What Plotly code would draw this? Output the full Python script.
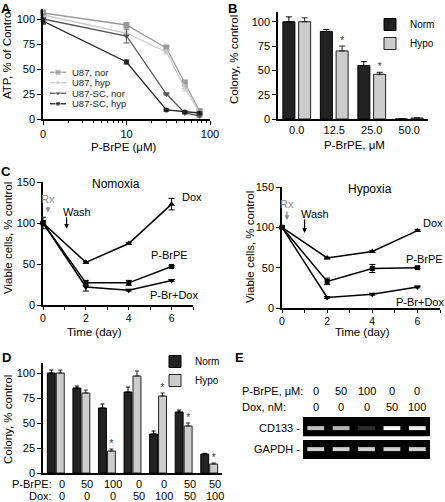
import plotly.graph_objects as go

W, H = 445, 502
FONT = "Arial, 'Liberation Sans', sans-serif"

# ---------------- Panel A: ATP vs P-BrPE ----------------
atp_dose = [0, 10, 30, 50, 75]
atp_labels = ["U87, nor", "U87, hyp", "U87-SC, nor", "U87-SC, hyp"]
atp_u87_nor = [106, 94, 71, 36, 8]
atp_u87_nor_err = [3, 1, 3, 3, 2]
atp_u87_hyp = [104, 86, 67, 31, 6]
atp_u87_hyp_err = [2, 2, 2, 3, 2]
atp_sc_nor = [100, 83, 25, 6, 3]
atp_sc_nor_err = [5, 7, 1, 1, 1]
atp_sc_hyp = [98, 57, 9, 7, 6]
atp_sc_hyp_err = [3, 2, 1, 1, 1]

# ---------------- Panel B: colony vs P-BrPE ----------------
colony_dose_labels = ["0.0", "12.5", "25.0", "50.0"]
colony_norm = [100, 90, 55, 0]
colony_norm_err = [5, 2, 4, 0]
colony_hypo = [100, 70, 46, 1]
colony_hypo_err = [4, 5, 2, 0.5]
colony_sig = [False, True, True, False]

# ---------------- Panel C: viable cells over time ----------------
days = [0, 2, 4, 6]
c_labels = ["Dox", "P-BrPE", "P-Br+Dox"]
nor_dox = [100, 52, 75, 123]
nor_dox_err = [7, 1, 1, 7]
nor_pbrpe = [100, 27, 27, 47]
nor_pbrpe_err = [3, 3, 3, 1]
nor_combo = [100, 22, 18, 30]
nor_combo_err = [3, 5, 1, 1]
hyp_dox = [100, 62, 70, 96]
hyp_dox_err = [1, 1, 1, 1]
hyp_pbrpe = [100, 33, 49, 50]
hyp_pbrpe_err = [2, 4, 5, 1]
hyp_combo = [100, 13, 17, 26]
hyp_combo_err = [1, 1, 1, 1]

# ---------------- Panel D: colony with combinations ----------------
d_pbrpe = ["0", "50", "100", "0", "0", "50", "50"]
d_dox = ["0", "0", "0", "50", "100", "50", "100"]
d_norm = [100, 85, 65, 81, 39, 61, 19]
d_norm_err = [3, 2, 4, 5, 3, 2, 0.7]
d_hypo = [100, 80, 22, 97, 77, 47, 9]
d_hypo_err = [3, 3, 2, 5, 3, 3, 1]
d_sig = [False, False, True, False, True, True, True]

# ---------------- Panel E: gel ----------------
e_pbrpe = ["0", "50", "100", "0", "0"]
e_dox = ["0", "0", "0", "50", "100"]
e_genes = ["GAPDH", "CD133"]
cd133_band = [0.75, 0.7, 0.18, 0.97, 0.92]
gapdh_band = [0.82, 0.82, 0.82, 0.82, 0.82]


def fx(p):
    return p / W


def fy(p):
    return 1 - p / H


def xdom(a, b):
    return [fx(a), fx(b)]


def ydom(top, bottom):
    return [fy(bottom), fy(top)]


def note(**kw):
    d = dict(showarrow=False, xanchor="center", yanchor="middle")
    d.update(kw)
    return d


AX = dict(showline=True, linecolor="black", linewidth=1.5, ticks="outside",
          ticklen=4, tickwidth=1.2, tickcolor="black", showgrid=False,
          zeroline=False, tickfont=dict(size=11, color="black", family=FONT))

fig = go.Figure()
ann = []
shapes = []

# ---- A
A_colors = ["#9a9a9a", "#c9c9c9", "#555555", "#222222"]
A_symbols = ["square", "triangle-up", "triangle-down", "circle"]
A_sizes = [6, 6, 6, 5]
atp_x = [d if d > 0 else 1 for d in atp_dose]  # 0 dose sits at axis origin (labelled "0")
A_vals = [atp_u87_nor, atp_u87_hyp, atp_sc_nor, atp_sc_hyp]
A_errs = [atp_u87_nor_err, atp_u87_hyp_err, atp_sc_nor_err, atp_sc_hyp_err]
for i, (name, v, e, c, s, sz) in enumerate(zip(atp_labels, A_vals, A_errs, A_colors, A_symbols, A_sizes)):
    fig.add_trace(go.Scatter(
        x=atp_x, y=v, name=name, mode="lines+markers",
        line=dict(color=c, width=1.3), marker=dict(symbol=s, size=sz, color=c),
        error_y=dict(type="data", array=e, color=c, thickness=1, width=3),
        xaxis="x", yaxis="y", showlegend=False, cliponaxis=False))
    # legend sample
    fig.add_trace(go.Scatter(
        x=[0, 1, 2], y=[i, i, i], mode="lines+markers",
        line=dict(color=c, width=1.3), marker=dict(symbol=s, size=[0, sz, 0], color=c),
        xaxis="x7", yaxis="y7", showlegend=False, hoverinfo="skip"))
    ann.append(note(xref="x7", yref="y7", x=2, y=i, text=name, xanchor="left",
                    xshift=4, font=dict(size=9.5, color="#222")))

# ---- B
BW_B, OFF_N_B, OFF_H_B = 0.32, -0.37, 0.05
bx = list(range(len(colony_dose_labels)))
fig.add_trace(go.Bar(
    x=bx, y=colony_norm, width=BW_B, offset=OFF_N_B, name="Norm",
    marker=dict(color="#222222", line=dict(color="black", width=1)),
    error_y=dict(type="data", array=colony_norm_err, arrayminus=[0] * len(bx),
                 symmetric=False, color="black", thickness=1, width=3),
    xaxis="x2", yaxis="y2", legend="legend2"))
fig.add_trace(go.Bar(
    x=bx, y=colony_hypo, width=BW_B, offset=OFF_H_B, name="Hypo",
    marker=dict(color="#cccccc", line=dict(color="#222222", width=1)),
    error_y=dict(type="data", array=colony_hypo_err, arrayminus=[0] * len(bx),
                 symmetric=False, color="#222222", thickness=1, width=3),
    xaxis="x2", yaxis="y2", legend="legend2"))
fig.add_trace(go.Scatter(
    x=[i + OFF_H_B + BW_B / 2 for i, s in zip(bx, colony_sig) if s],
    y=[v + e for v, e, s in zip(colony_hypo, colony_hypo_err, colony_sig) if s],
    mode="text", text=["*"] * sum(colony_sig), textposition="top center",
    textfont=dict(size=10, color="#333"), xaxis="x2", yaxis="y2", showlegend=False))

# ---- C
C_symbols = ["triangle-up", "square", "triangle-down"]
C_sizes = [6, 5, 6]
for (vals, errs, xa, ya) in [
    ([nor_dox, nor_pbrpe, nor_combo], [nor_dox_err, nor_pbrpe_err, nor_combo_err], "x3", "y3"),
    ([hyp_dox, hyp_pbrpe, hyp_combo], [hyp_dox_err, hyp_pbrpe_err, hyp_combo_err], "x4", "y4"),
]:
    for v, e, s, sz, nm in zip(vals, errs, C_symbols, C_sizes, c_labels):
        fig.add_trace(go.Scatter(
            x=days, y=v, name=nm, mode="lines+markers",
            line=dict(color="black", width=1.5), marker=dict(symbol=s, size=sz, color="black"),
            error_y=dict(type="data", array=e, color="black", thickness=1, width=3),
            xaxis=xa, yaxis=ya, showlegend=False, cliponaxis=False))

# ---- D
BW_D, OFF_N_D, OFF_H_D = 0.31, -0.33, 0.02
dx = list(range(len(d_norm)))
fig.add_trace(go.Bar(
    x=dx, y=d_norm, width=BW_D, offset=OFF_N_D, name="Norm",
    marker=dict(color="#222222", line=dict(color="black", width=1)),
    error_y=dict(type="data", array=d_norm_err, arrayminus=[0] * len(dx),
                 symmetric=False, color="black", thickness=1, width=2),
    xaxis="x5", yaxis="y5", legend="legend3"))
fig.add_trace(go.Bar(
    x=dx, y=d_hypo, width=BW_D, offset=OFF_H_D, name="Hypo",
    marker=dict(color="#cccccc", line=dict(color="#222222", width=1)),
    error_y=dict(type="data", array=d_hypo_err, arrayminus=[0] * len(dx),
                 symmetric=False, color="#222222", thickness=1, width=2),
    xaxis="x5", yaxis="y5", legend="legend3"))
fig.add_trace(go.Scatter(
    x=[i + OFF_H_D + BW_D / 2 for i, s in zip(dx, d_sig) if s],
    y=[v + e for v, e, s in zip(d_hypo, d_hypo_err, d_sig) if s],
    mode="text", text=["*"] * sum(d_sig), textposition="top center",
    textfont=dict(size=10, color="#333"), xaxis="x5", yaxis="y5", showlegend=False))
ROW1, ROW2 = 484, 496
ann.append(note(xref="paper", yref="paper", x=fx(54), y=fy(ROW1), text="P-BrPE:",
                xanchor="right", font=dict(size=11)))
ann.append(note(xref="paper", yref="paper", x=fx(54), y=fy(ROW2), text="Dox:",
                xanchor="right", font=dict(size=11)))
for i, (p, d) in enumerate(zip(d_pbrpe, d_dox)):
    ann.append(note(xref="x5", yref="paper", x=i, y=fy(ROW1), text=p, xshift=6,
                    font=dict(size=11)))
    ann.append(note(xref="x5", yref="paper", x=i, y=fy(ROW2), text=d, xshift=6,
                    font=dict(size=11)))

# ---- E gel
lanes = list(range(1, len(e_pbrpe) + 1))
shapes.append(dict(type="rect", xref="x6 domain", yref="y6", x0=0, x1=1, y0=0.58, y1=1.5,
                   fillcolor="black", line=dict(width=0), layer="below"))
shapes.append(dict(type="rect", xref="x6 domain", yref="y6", x0=0, x1=1, y0=-0.5, y1=0.4,
                   fillcolor="black", line=dict(width=0), layer="below"))
for row, band in [(1, cd133_band), (0, gapdh_band)]:
    fig.add_trace(go.Scatter(
        x=lanes, y=[row - 0.03] * len(lanes), mode="markers",
        marker=dict(symbol="line-ew", size=12,
                    line=dict(width=4, color=[f"rgba(255,255,255,{a})" for a in band])),
        xaxis="x6", yaxis="y6", showlegend=False, hoverinfo="skip"))
for gi, g in enumerate(e_genes):
    ann.append(note(xref="paper", yref="y6", x=fx(302), y=gi, text=g + " -", xanchor="right",
                    font=dict(size=11)))
ann.append(note(xref="paper", yref="paper", x=fx(240), y=fy(391), text="P-BrPE, μM:",
                xanchor="left", font=dict(size=11)))
ann.append(note(xref="paper", yref="paper", x=fx(240), y=fy(407), text="Dox, nM:",
                xanchor="left", font=dict(size=11)))
for ln, p, d in zip(lanes, e_pbrpe, e_dox):
    ann.append(note(xref="x6", yref="paper", x=ln, y=fy(391), text=p, font=dict(size=11)))
    ann.append(note(xref="x6", yref="paper", x=ln, y=fy(407), text=d, font=dict(size=11)))

# ---- Panel letters
for t, x, y in [("A", 6, 9), ("B", 232, 9), ("C", 6, 172), ("D", 6, 357), ("E", 239, 357)]:
    ann.append(note(xref="paper", yref="paper", x=fx(x), y=fy(y), text=f"<b>{t}</b>",
                    font=dict(size=13)))

# ---- Axis titles
for text, x, y, rot in [
    ("ATP, % of Control", 7, 54, -90),
    ("P-BrPE (μM)", 124, 147, 0),
    ("Colony, % control", 234, 60, -90),
    ("P-BrPE, μM", 354, 145, 0),
    ("Viable cells, % control", 8, 238, -90),
    ("Time (day)", 94, 332, 0),
    ("Viable cells, % control", 250, 247, -90),
    ("Time (day)", 362, 332, 0),
    ("Colony, % control", 8, 420, -90),
]:
    ann.append(note(xref="paper", yref="paper", x=fx(x), y=fy(y), text=text, textangle=rot,
                    font=dict(size=11.5)))

# ---- C annotations
for xa, ya, title, tx, ty, rx, rtip, rlen, wx, wtip, wlen, wtx, wty in [
    ("x3", "y3", "Nomoxia", 3.4, 148, 0.23, 113, -13, 1.1, 93, -13, 1.6, 113),
    ("x4", "y4", "Hypoxia", 3.9, 148, 0.22, 109, -16, 1.0, 93, -15, 1.45, 116),
]:
    ann.append(note(xref=xa, yref=ya, x=tx, y=ty, text=title, font=dict(size=12)))
    ann.append(dict(xref=xa, yref=ya, x=rx, y=rtip, text="Rx", showarrow=True, ax=0, ay=rlen,
                    arrowhead=2, arrowsize=0.8, arrowwidth=1.2, arrowcolor="#888",
                    font=dict(size=11, color="#888")))
    ann.append(dict(xref=xa, yref=ya, x=wx, y=wtip, text="", showarrow=True, ax=0, ay=wlen,
                    arrowhead=2, arrowsize=0.8, arrowwidth=1.2, arrowcolor="black"))
    ann.append(note(xref=xa, yref=ya, x=wtx, y=wty, text="Wash", font=dict(size=11)))
for xa, ya, pos in [
    ("x3", "y3", [(6.95, 132), (5.9, 61), (6.1, 12)]),
    ("x4", "y4", [(6.7, 105), (6.3, 61), (6.1, 7)]),
]:
    for lab, (x, y) in zip(c_labels, pos):
        ann.append(note(xref=xa, yref=ya, x=x, y=y, text=lab, font=dict(size=11)))

CX = dict(AX, ticklen=3, tickfont=dict(size=10.5, color="black", family=FONT))

fig.update_layout(
    width=W, height=H, margin=dict(l=0, r=0, t=0, b=0), autosize=False,
    template="none", paper_bgcolor="white", plot_bgcolor="white",
    font=dict(family=FONT, size=11, color="black"),
    xaxis=dict(AX, domain=xdom(43, 210), type="log", range=[0, 2],
               tickvals=[1, 10, 100], ticktext=["0", "10", "100"],
               minor=dict(tickvals=[2, 3, 4, 5, 6, 7, 8, 9, 20, 30, 40, 50, 60, 70, 80, 90],
                          ticks="outside", ticklen=2, tickcolor="black", tickwidth=1),
               anchor="y"),
    yaxis=dict(AX, domain=ydom(9, 119), range=[0, 110], tickvals=[0, 25, 50, 75, 100],
               anchor="x"),
    xaxis2=dict(AX, domain=xdom(278, 428), range=[-0.5, 3.5], tickvals=bx,
                ticktext=colony_dose_labels, ticks="", anchor="y2"),
    yaxis2=dict(AX, domain=ydom(12, 119), range=[0, 110], tickvals=[0, 25, 50, 75, 100],
                anchor="x2"),
    xaxis3=dict(CX, domain=xdom(43, 193), range=[0, 7], tickvals=[0, 2, 4, 6],
                minor=dict(dtick=1, tick0=0, ticks="outside", ticklen=3, tickcolor="black"),
                anchor="y3"),
    yaxis3=dict(AX, domain=ydom(182, 305), range=[0, 150], tickvals=[0, 50, 100, 150],
                anchor="x3"),
    xaxis4=dict(CX, domain=xdom(282, 440), range=[0, 7], tickvals=[0, 2, 4, 6],
                minor=dict(dtick=1, tick0=0, ticks="outside", ticklen=3, tickcolor="black"),
                anchor="y4"),
    yaxis4=dict(AX, domain=ydom(187, 308), range=[0, 150], tickvals=[0, 50, 100, 150],
                anchor="x4"),
    xaxis5=dict(AX, domain=xdom(43, 222), range=[-0.5, 6.5], showticklabels=False,
                ticks="", anchor="y5"),
    yaxis5=dict(AX, domain=ydom(363, 473), range=[0, 110], tickvals=[0, 25, 50, 75, 100],
                anchor="x5"),
    xaxis6=dict(domain=xdom(303, 430), range=[0.5, 5.5], visible=False, anchor="y6"),
    yaxis6=dict(domain=ydom(417, 459), range=[-0.5, 1.5], visible=False, anchor="x6"),
    xaxis7=dict(domain=xdom(50, 66), range=[0, 2], visible=False, anchor="y7"),
    yaxis7=dict(domain=ydom(67, 109), range=[3.5, -0.5], visible=False, anchor="x7"),
    legend2=dict(x=fx(370), y=fy(10), xanchor="left", yanchor="top", font=dict(size=10),
                 bgcolor="rgba(0,0,0,0)", itemwidth=30, tracegroupgap=0),
    legend3=dict(x=fx(155), y=fy(347), xanchor="left", yanchor="top", font=dict(size=10),
                 bgcolor="rgba(0,0,0,0)", itemwidth=30, tracegroupgap=0),
    annotations=ann, shapes=shapes, showlegend=True,
)

fig.write_html("out.html", config={"displayModeBar": False},
               post_script="document.body.style.margin='0';")
